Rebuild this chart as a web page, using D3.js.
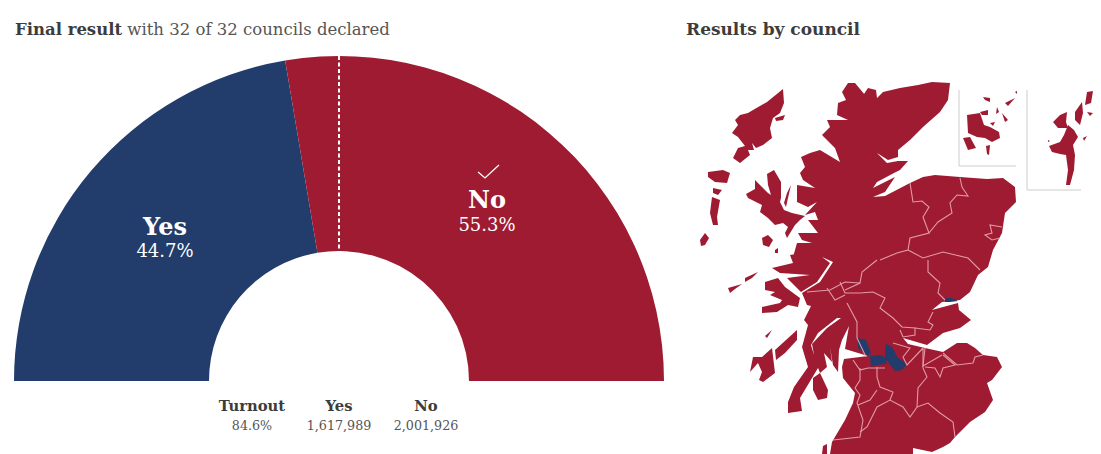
<!DOCTYPE html>
<html>
<head>
<meta charset="utf-8">
<script src="https://cdn.jsdelivr.net/npm/d3@7"></script>
<style>
html, body { margin: 0; padding: 0; background: #fff; overflow: hidden; }
text { font-family: "DejaVu Serif", serif; }
</style>
</head>
<body>
<div id="chart"></div>
<script>
//vote shares
var parties = ["Yes", "No"];
var shares = [44.7, 55.3];
var footLabels = ["Turnout", "Yes", "No"];
var footValues = ["84.6%", "1,617,989", "2,001,926"];

//map outlines, traced in map units
var mainland = [[168,13],[175,13],[180,19],[185,25],[180,30],[188,18],[196,20],[197,28],[203,22],[220,18],[238,15],[252,12],[270,13],[268,30],[260,42],[243,57],[230,70],[218,80],[218,87],[208,90],[197,83],[207,93],[218,91],[228,91],[220,100],[214,103],[197,112],[193,118],[215,107],[205,122],[193,127],[205,126],[230,113],[243,107],[255,105],[280,107],[307,109],[323,108],[335,117],[336,132],[325,143],[322,163],[313,180],[308,197],[298,205],[290,222],[280,230],[262,232],[252,240],[278,233],[279,240],[291,250],[280,258],[263,263],[247,275],[223,268],[228,274],[245,278],[263,282],[277,273],[287,273],[295,278],[303,285],[317,287],[322,297],[312,310],[307,313],[313,330],[305,342],[290,352],[275,367],[270,373],[263,377],[252,382],[233,378],[233,384],[150,384],[152,372],[165,350],[173,333],[175,323],[163,308],[162,297],[164,289],[188,286],[165,279],[169,256],[162,270],[159,280],[158,302],[153,295],[150,277],[152,292],[144,283],[147,297],[140,303],[135,290],[132,274],[147,258],[161,248],[157,248],[138,263],[131,275],[138,298],[120,328],[122,341],[108,343],[108,332],[114,317],[128,297],[122,277],[128,255],[124,250],[131,236],[127,235],[122,223],[140,212],[153,192],[142,187],[150,193],[137,212],[121,222],[107,208],[130,205],[100,203],[92,198],[113,193],[110,185],[122,183],[113,187],[117,173],[132,173],[122,170],[118,163],[138,163],[128,150],[138,150],[135,142],[125,145],[137,132],[128,137],[117,132],[117,115],[135,118],[123,110],[120,103],[125,97],[121,87],[130,83],[140,80],[160,92],[155,78],[142,65],[150,57],[147,50],[168,50],[157,45],[158,33],[166,30],[162,22]];
var islands = [
  [[103,19],[104,33],[100,43],[93,48],[90,58],[92,68],[83,75],[76,78],[72,73],[74,80],[68,80],[70,85],[60,93],[53,88],[58,78],[65,76],[58,67],[52,63],[58,55],[55,50],[60,45],[68,43],[73,40],[87,32]],
  [[95,48],[105,45],[103,50],[96,51]],
  [[28,102],[43,100],[50,103],[47,113],[35,112],[28,107]],
  [[33,118],[42,120],[38,125],[33,123]],
  [[32,127],[40,130],[37,147],[38,155],[33,155],[30,143]],
  [[20,170],[25,163],[29,168],[25,175],[21,176]],
  [[87,104],[94,100],[101,112],[101,128],[100,132],[104,140],[112,143],[125,146],[120,150],[115,155],[107,168],[105,163],[108,157],[103,153],[95,155],[88,148],[80,142],[82,135],[68,128],[66,124],[75,119],[75,110],[82,117],[88,123],[91,125],[88,115]],
  [[111,115],[108,128],[106,137],[104,133],[107,123]],
  [[82,168],[88,165],[93,170],[89,177],[83,175]],
  [[95,180],[98,178],[98,183],[95,183]],
  [[85,212],[98,208],[105,217],[120,228],[118,237],[108,235],[97,242],[82,243],[82,237],[100,233],[102,230],[90,225],[95,222],[85,220]],
  [[65,208],[78,202],[72,208],[65,212]],
  [[48,218],[62,214],[55,219],[50,223]],
  [[117,260],[95,280],[96,290],[105,283],[117,270]],
  [[73,287],[82,287],[92,278],[95,303],[83,312],[79,310],[82,302],[78,293],[70,302]],
  [[133,308],[140,303],[148,320],[147,328],[138,330],[133,320]],
  [[92,260],[87,268],[85,266]],
  [[142,384],[143,376],[147,374],[147,384]],
  //orkney
  [[287,45],[300,43],[304,55],[310,57],[319,62],[320,68],[312,72],[305,68],[297,67],[288,63]],
  [[283,68],[290,67],[296,78],[288,80]],
  [[306,76],[310,75],[309,85],[307,84]],
  [[303,27],[310,28],[310,32],[305,30]],
  [[300,42],[308,40],[308,45],[302,45]],
  [[325,33],[335,28],[328,36]],
  [[322,43],[328,50],[325,52]],
  [[317,37],[319,42],[316,44]],
  [[310,53],[315,52],[313,56]],
  [[335,22],[337,21],[337,24]],
  //shetland
  [[388,55],[394,60],[398,67],[393,75],[395,85],[394,100],[390,115],[386,115],[388,100],[386,85],[380,84],[372,82],[369,76],[380,72],[384,65]],
  [[395,42],[402,32],[403,43],[400,55],[395,50]],
  [[407,22],[413,21],[411,33],[405,35]],
  [[407,42],[413,43],[410,46]],
  [[373,52],[380,45],[387,42],[386,52],[388,58],[378,58]],
  [[403,68],[407,66],[404,71]],
  [[368,70],[370,71],[368,72]]
];
var dundee = [[265,228],[272,228],[278,231],[270,232],[265,232]];
var westDunbarton = [[178,268],[186,270],[191,283],[188,286],[178,278]];
var glasgow = [[190,286],[200,285],[207,288],[206,294],[197,295],[191,297]];
var northLanark = [[206,274],[212,277],[218,288],[227,294],[222,300],[215,301],[208,292],[205,286]];
var borders = [
  [[230,113],[233,132],[242,131],[249,137],[243,147],[249,163],[230,168],[228,180],[217,183],[200,190]],
  [[280,108],[282,117],[288,126],[277,125],[270,133],[272,143],[258,152],[249,163]],
  [[322,157],[310,155],[312,163],[305,165],[312,170],[320,168]],
  [[228,180],[243,188],[263,182],[288,188],[300,200]],
  [[197,190],[182,202],[180,213],[165,220]],
  [[248,190],[248,202],[260,213],[258,223],[265,230]],
  [[180,223],[193,222],[205,228],[200,238],[213,248],[222,257],[235,258],[235,265],[223,267],[220,260]],
  [[235,258],[250,260],[253,255],[248,252],[253,242]],
  [[160,212],[165,223],[180,223]],
  [[127,222],[150,220],[165,212],[180,213]],
  [[147,218],[155,230],[165,225]],
  [[167,233],[177,252],[177,268],[186,287]],
  [[213,273],[230,278],[223,287],[227,295],[243,278],[243,298],[247,307],[238,318],[237,337],[230,347],[223,337],[210,330],[197,337],[187,357],[180,362]],
  [[245,278],[243,296],[262,285]],
  [[263,285],[275,295],[263,298],[260,307],[255,298],[245,297]],
  [[263,283],[277,295],[293,293],[295,287],[303,285]],
  [[237,337],[248,333],[260,343],[273,352],[275,367]],
  [[197,297],[197,307],[200,317],[213,322],[210,330]],
  [[173,290],[180,300],[188,298],[205,298]],
  [[180,298],[180,310],[175,318],[180,325],[177,333],[183,350],[180,367],[153,370]],
  [[178,335],[190,330],[197,320]]
];
var orkneyFrame = [[279,20],[279,96],[336,96]];
var shetlandFrame = [[347,20],[347,120],[401,120]];

var width = 1101, height = 454;
var cx = 339, cy = 381, outerR = 325, innerR = 130;
var blue = "#223d6b", red = "#9e1b32";

var svg = d3.select("#chart").append("svg")
    .attr("width", width)
    .attr("height", height)
    .style("display", "block");

//headings
var head = svg.append("text").attr("x", 15).attr("y", 35)
    .attr("font-size", 16.5).attr("fill", "#555");
head.append("tspan").attr("font-weight", "bold").attr("fill", "#3c3c3c").text("Final result");
head.append("tspan").text(" with 32 of 32 councils declared");
svg.append("text").attr("x", 686).attr("y", 35)
    .attr("font-size", 17).attr("font-weight", "bold").attr("fill", "#3c3c3c")
    .text("Results by council");

//half donut
var pie = d3.pie().sort(null).startAngle(-Math.PI / 2).endAngle(Math.PI / 2);
var arc = d3.arc().innerRadius(innerR).outerRadius(outerR);
var donut = svg.append("g").attr("transform", `translate(${cx}, ${cy})`);
donut.selectAll("path")
    .data(pie(shares))
    .enter()
    .append("path")
    .attr("d", arc)
    .attr("fill", (d, i) => i == 0 ? blue : red);

//50% line
donut.append("line")
    .attr("y1", -outerR).attr("y2", -innerR)
    .attr("stroke", "#fff").attr("stroke-width", 2)
    .attr("stroke-dasharray", "4,2.5");

//labels
var labelAt = [[165, 235, 257], [487, 208, 231]];
parties.forEach((p, i) => {
    svg.append("text").attr("x", labelAt[i][0]).attr("y", labelAt[i][1])
        .attr("text-anchor", "middle").attr("fill", "#fff")
        .attr("font-weight", "bold").attr("font-size", 24).text(p);
    svg.append("text").attr("x", labelAt[i][0]).attr("y", labelAt[i][2])
        .attr("text-anchor", "middle").attr("fill", "#fff")
        .attr("font-size", 18).text(shares[i] + "%");
});
svg.append("path")
    .attr("d", d3.line()([[478, 172], [485, 178], [499, 165]]))
    .attr("fill", "none").attr("stroke", "#fff").attr("stroke-width", 1.3);

//numbers under the donut
var footX = d3.scalePoint().domain(footLabels).range([252, 426]);
footLabels.forEach((l, i) => {
    svg.append("text").attr("x", footX(l)).attr("y", 411)
        .attr("text-anchor", "middle").attr("font-weight", "bold")
        .attr("font-size", 14.8).attr("fill", "#3c3c3c").text(l);
    svg.append("text").attr("x", footX(l)).attr("y", 430)
        .attr("text-anchor", "middle")
        .attr("font-size", 12.7).attr("fill", "#555").text(footValues[i]);
});

//map
var mapX = d3.scaleLinear().domain([0, 421]).range([680, 1101]);
var mapY = d3.scaleLinear().domain([0, 384]).range([70, 454]);
var line = d3.line().x(d => mapX(d[0])).y(d => mapY(d[1]));
var map = svg.append("g").style("filter", "blur(0.35px)");

map.selectAll("path.frame")
    .data([orkneyFrame, shetlandFrame])
    .enter().append("path").attr("class", "frame")
    .attr("d", line).attr("fill", "none").attr("stroke", "#ccc").attr("stroke-width", 1);

map.selectAll("path.land")
    .data([mainland].concat(islands))
    .enter().append("path").attr("class", "land")
    .attr("d", d => line(d) + "Z").attr("fill", red);

map.selectAll("path.yes")
    .data([dundee, westDunbarton, glasgow, northLanark])
    .enter().append("path").attr("class", "yes")
    .attr("d", d => line(d) + "Z").attr("fill", blue);

map.selectAll("path.border")
    .data(borders)
    .enter().append("path").attr("class", "border")
    .attr("d", line).attr("fill", "none")
    .attr("stroke", "#e29aa6").attr("stroke-width", 1.1);
</script>
</body>
</html>
